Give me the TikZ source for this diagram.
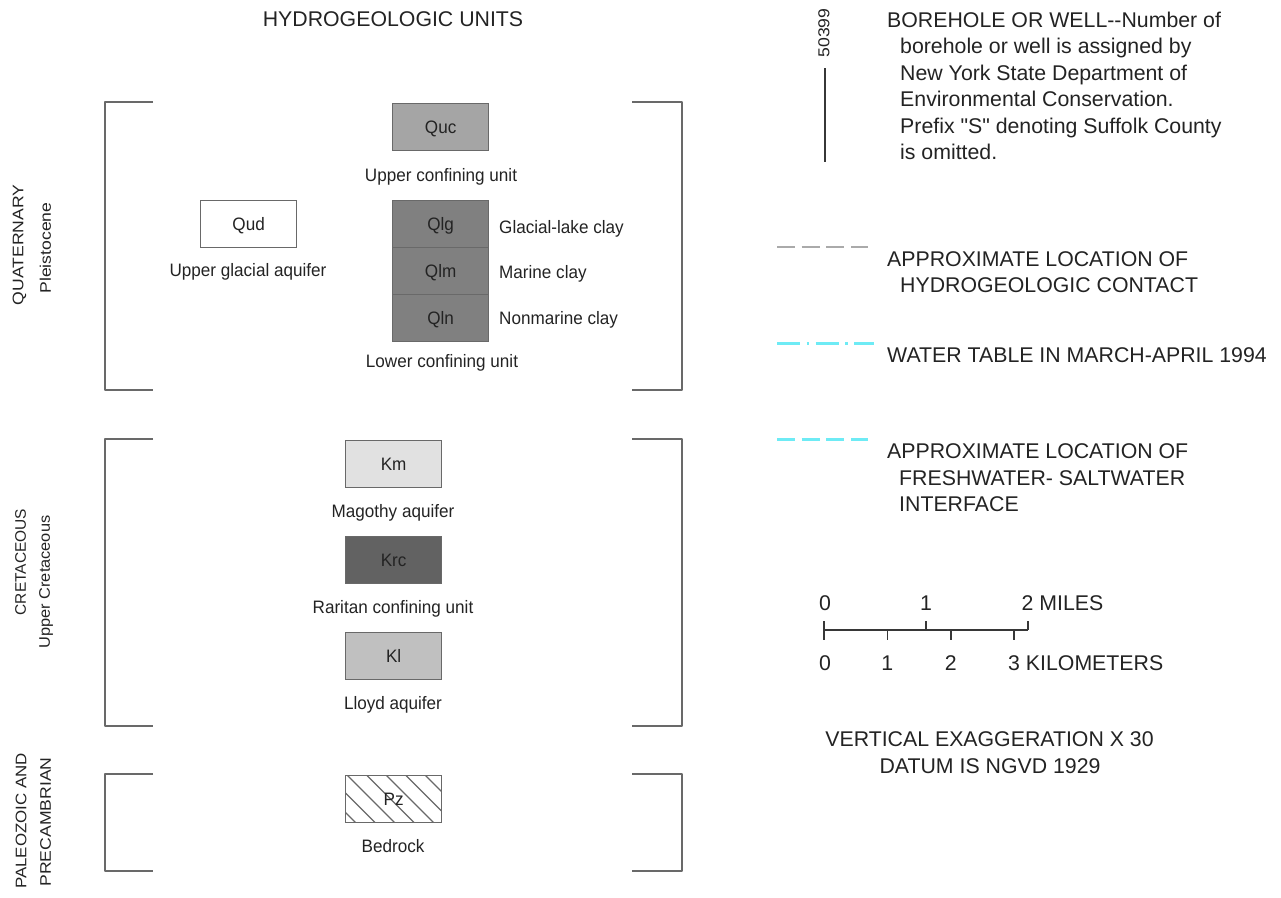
\documentclass[tikz,border=0pt]{standalone}
\usepackage{fontspec}
\setmainfont{Liberation Sans}
\newfontfamily\lblfont[FakeStretch=0.95]{Liberation Sans}
\newfontfamily\legfont{Liberation Sans}
\definecolor{txt}{RGB}{35,35,35}
\definecolor{brk}{RGB}{105,105,105}
\definecolor{boxline}{RGB}{105,105,105}
\definecolor{cyanl}{RGB}{110,235,245}
\definecolor{dashgray}{RGB}{170,170,170}
\definecolor{wellc}{RGB}{55,55,55}
\definecolor{fQuc}{RGB}{165,165,165}
\definecolor{fQl}{RGB}{128,128,128}
\definecolor{fKm}{RGB}{225,225,225}
\definecolor{fKrc}{RGB}{98,98,98}
\definecolor{fKl}{RGB}{192,192,192}
\begin{document}
\begin{tikzpicture}[x=1pt,y=-1pt,
  unitbox/.style={draw=boxline,line width=1.3pt,minimum width=96pt,minimum height=47pt,inner sep=0pt,text height=12.9pt,text depth=0pt,anchor=north west,font=\lblfont\fontsize{18}{18}\selectfont,text=txt},
  unitlbl/.style={font=\lblfont\fontsize{18}{18}\selectfont,text=txt,inner sep=0pt,anchor=base},
  sidelbl/.style={unitlbl,anchor=base west},
  legtxt/.style={font=\legfont\fontsize{21.3}{21.3}\selectfont,text=txt,inner sep=0pt,anchor=base west},
  ctrtxt/.style={legtxt,anchor=base},
  agelbl/.style={font=\fontsize{17.6}{17.6}\selectfont,text=txt,inner sep=0pt,rotate=90,anchor=center},
  bracket/.style={draw=brk,line width=2pt,line join=round},
  hatchline/.style={draw=boxline,line width=1.1pt},
  contactline/.style={draw=dashgray,line width=2.4pt,dash pattern=on 18pt off 6.7pt},
  wtline/.style={draw=cyanl,line width=2.4pt,dash pattern=on 23pt off 6.5pt on 2.5pt off 6.5pt},
  fsline/.style={draw=cyanl,line width=2.4pt,dash pattern=on 18pt off 6.7pt},
  scaleline/.style={draw=wellc,line width=1.6pt}
]
\useasboundingbox (0,0) rectangle (1281,897);

% title
\node[ctrtxt] (title) at (393,26) {HYDROGEOLOGIC UNITS};

% brackets
\draw[bracket] (153,102) -- (105,102) -- (105,390) -- (153,390);
\draw[bracket] (632,102) -- (682,102) -- (682,390) -- (632,390);
\draw[bracket] (153,439) -- (105,439) -- (105,726) -- (153,726);
\draw[bracket] (632,439) -- (682,439) -- (682,726) -- (632,726);
\draw[bracket] (153,774) -- (105,774) -- (105,871) -- (153,871);
\draw[bracket] (632,774) -- (682,774) -- (682,871) -- (632,871);

% age labels
\node[agelbl] (quat) at (19.5,245) {\scalebox{1}[0.87]{QUATERNARY}};
\node[agelbl] (pleist) at (45.5,248) {\scalebox{1}[0.87]{Pleistocene}};
\node[agelbl] (cret) at (20.5,562) {\scalebox{0.88}[0.87]{CRETACEOUS}};
\node[agelbl] (ucret) at (46,582) {\scalebox{0.93}[0.87]{Upper Cretaceous}};
\node[agelbl] (paleo) at (21,821) {\scalebox{0.96}[0.87]{PALEOZOIC AND}};
\node[agelbl] (precam) at (45.5,822) {\scalebox{1}[0.87]{PRECAMBRIAN}};

% Quaternary units
\node[unitbox,fill=fQuc] (quc) at (392,103) {Quc};
\node[unitlbl] (qucl) at (441,181) {Upper confining unit};
\node[unitbox,fill=white] (qud) at (200,200) {Qud};
\node[unitlbl] (qudl) at (248,276) {Upper glacial aquifer};
\node[unitbox,fill=fQl] (qlg) at (392,200) {Qlg};
\node[unitbox,fill=fQl] (qlm) at (392,247) {Qlm};
\node[unitbox,fill=fQl] (qln) at (392,294) {Qln};
\node[sidelbl] (qlgl) at (499,233) {Glacial-lake clay};
\node[sidelbl] (qlml) at (499,278) {Marine clay};
\node[sidelbl] (qlnl) at (499,324) {Nonmarine clay};
\node[unitlbl] (lcu) at (442,367) {Lower confining unit};

% Cretaceous units
\node[unitbox,fill=fKm] (km) at (345,440) {Km};
\node[unitlbl] (kml) at (393,517) {Magothy aquifer};
\node[unitbox,fill=fKrc] (krc) at (345,536) {Krc};
\node[unitlbl] (krcl) at (393,613) {Raritan confining unit};
\node[unitbox,fill=fKl] (kl) at (345,632) {Kl};
\node[unitlbl] (kll) at (393,709) {Lloyd aquifer};

% Bedrock
\begin{scope}
  \clip (345,775) rectangle (441,822);
  \foreach \i in {-3,...,5} {
    \draw[hatchline] (347+\i*19.5,775) -- ++(50,50);
  }
\end{scope}
\node[unitbox] (pz) at (345,775) {Pz};
\node[unitlbl] (pzl) at (393,852) {Bedrock};

% borehole legend
\coordinate (bhtop) at (825,68);
\coordinate (bhbot) at (825,162);
\draw[draw=wellc,line width=2.6pt] (bhtop) -- (bhbot);
\node[agelbl] (bhnum) at (824,33) {\scalebox{1}[0.9]{50399}};
\node[legtxt] (bh1) at (887,27) {BOREHOLE OR WELL{-}{-}Number of};
\node[legtxt] (bh2) at (900,53.5) {borehole or well is assigned by};
\node[legtxt] (bh3) at (900,80) {New York State Department of};
\node[legtxt] (bh4) at (900,106.5) {Environmental Conservation.};
\node[legtxt] (bh5) at (900,133) {Prefix "S" denoting Suffolk County};
\node[legtxt] (bh6) at (900,159.5) {is omitted.};

% contact legend
\coordinate (c1a) at (777,246.7);
\coordinate (c1b) at (868,246.7);
\draw[contactline] (c1a) -- (c1b);
\node[legtxt] (ct1) at (887,266.7) {APPROXIMATE LOCATION OF};
\node[legtxt] (ct2) at (900,292.7) {HYDROGEOLOGIC CONTACT};

% water table legend
\coordinate (w1a) at (777,343.3);
\coordinate (w1b) at (874,343.3);
\draw[wtline] (w1a) -- (w1b);
\node[legtxt] (wt1) at (887,362.7) {WATER TABLE IN MARCH-APRIL 1994};

% interface legend
\coordinate (f1a) at (777,439.3);
\coordinate (f1b) at (868,439.3);
\draw[fsline] (f1a) -- (f1b);
\node[legtxt] (fs1) at (887,458.3) {APPROXIMATE LOCATION OF};
\node[legtxt] (fs2) at (899,485) {FRESHWATER- SALTWATER};
\node[legtxt] (fs3) at (899,511.7) {INTERFACE};

% scale bar
\coordinate (s0) at (824,630);
\coordinate (s2) at (1028,630);
\draw[scaleline] (s0) -- (s2);
\draw[scaleline] (824,621) -- (824,640);
\draw[scaleline] (926,621) -- (926,630);
\draw[scaleline] (1028,621) -- (1028,630);
\draw[scaleline] (887.4,630) -- (887.4,640);
\draw[scaleline] (950.8,630) -- (950.8,640);
\draw[scaleline] (1014.2,630) -- (1014.2,640);
\node[ctrtxt] (m0) at (825,610.7) {0};
\node[ctrtxt] (m1) at (926,610.7) {1};
\node[legtxt] (m2) at (1021.5,610.7) {2 MILES};
\node[ctrtxt] (k0) at (825,670.7) {0};
\node[ctrtxt] (k1) at (887.4,670.7) {1};
\node[ctrtxt] (k2) at (950.8,670.7) {2};
\node[legtxt] (k3) at (1008,670.7) {3 KILOMETERS};

\node[ctrtxt] (vex) at (989.5,746.7) {VERTICAL EXAGGERATION X 30};
\node[ctrtxt] (datum) at (990,773.3) {DATUM IS NGVD 1929};
\end{tikzpicture}
\end{document}
